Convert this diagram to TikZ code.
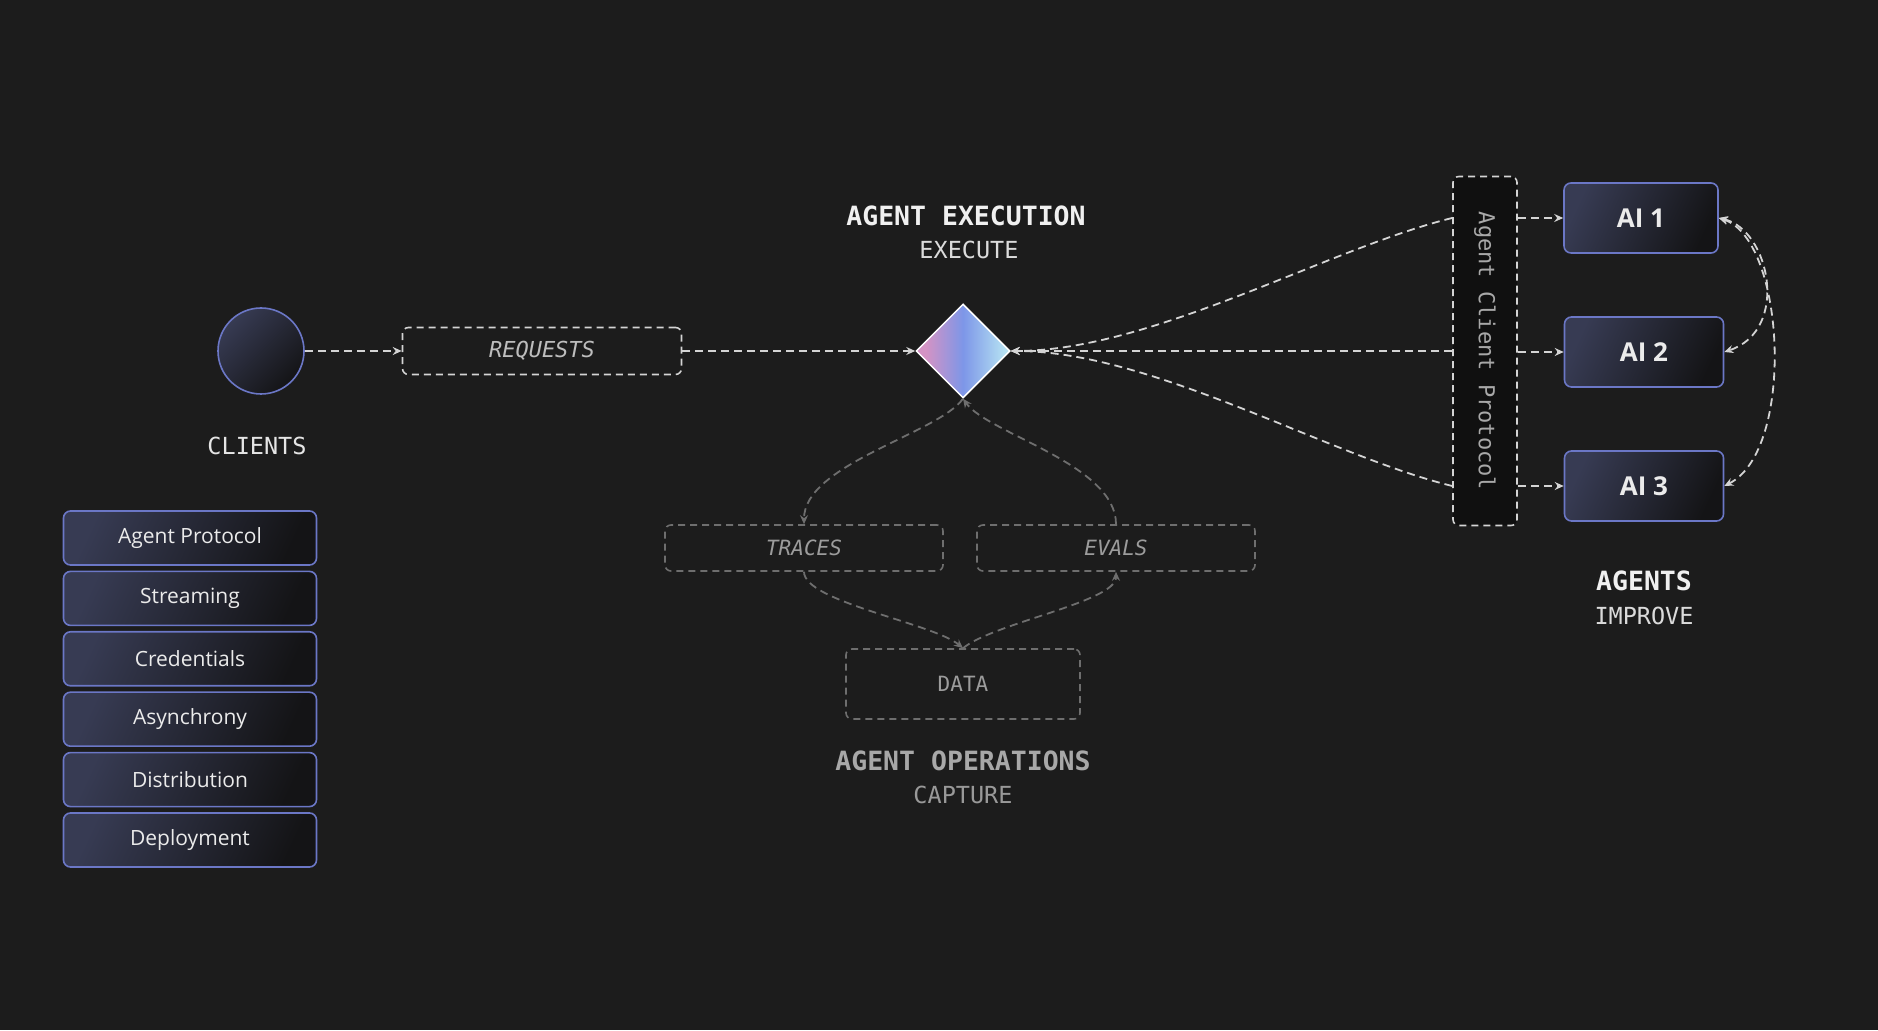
\documentclass[tikz,border=0pt]{standalone}
\usepackage{fontspec}
\setmainfont{Open Sans}
\newfontfamily\monofont{DejaVu Sans Mono}
\usetikzlibrary{arrows.meta, shapes.geometric}

\definecolor{bgc}{HTML}{1C1C1C}
\definecolor{edgec}{HTML}{6B77C6}
\definecolor{boxhi}{HTML}{373B53}
\definecolor{boxlo}{HTML}{141416}
\definecolor{linec}{HTML}{D4D4D4}
\definecolor{acpfill}{HTML}{101010}
\definecolor{opsc}{HTML}{6E6E6E}
\definecolor{opstext}{HTML}{9C9C9C}
\definecolor{gemA}{HTML}{D493C4}
\definecolor{gemB}{HTML}{7D96E8}
\definecolor{gemC}{HTML}{B4E0F2}

\pgfdeclarehorizontalshading{gem}{100bp}{color(0bp)=(gemA); color(30bp)=(gemA); color(50bp)=(gemB); color(72bp)=(gemC); color(100bp)=(gemC)}

\tikzstyle{block} = [rectangle, draw=edgec, line width=1.6pt, rounded corners=7pt,
                 top color=boxhi, bottom color=boxlo, shading angle=65, text=white!92!black]
\tikzstyle{feature} = [block, minimum width=253pt, minimum height=54pt, font=\fontsize{21}{25}\selectfont]
\tikzstyle{agent} = [block, minimum height=70pt, font=\fontsize{26}{30}\selectfont\bfseries]
\tikzstyle{ghost} = [rectangle, draw, dash pattern=on 7pt off 5pt, line width=1.6pt, rounded corners=6pt]
\tikzstyle{title} = [font=\monofont\fontsize{26.5}{30}\selectfont\bfseries, text=white!94!black]
\tikzstyle{subtitle} = [font=\monofont\fontsize{23.5}{28}\selectfont, text=white!86!black]
\tikzstyle{flow} = [draw=linec, line width=1.8pt, dash pattern=on 8pt off 5pt,
                 -{Stealth[length=9pt, width=8pt, inset=3pt]}]
\tikzstyle{twoway} = [flow, {Stealth[length=9pt, width=8pt, inset=3pt]}-{Stealth[length=9pt, width=8pt, inset=3pt]}]
\tikzstyle{opsflow} = [flow, draw=opsc]

\begin{document}
\begin{tikzpicture}[x=1pt, y=1pt]

\fill [bgc] (0,0) rectangle (1878,1030);

\node [circle, draw=edgec, line width=1.6pt, minimum size=86pt,
       top color=boxhi, bottom color=boxlo, shading angle=45] at (261,679) (clients) {};
\node [subtitle, text=white!90!black] at (257,584) (clientslabel) {CLIENTS};

\node [ghost, draw=linec, minimum width=279pt, minimum height=47pt,
       font=\monofont\itshape\fontsize{22}{26}\selectfont, text=white!74!black] at (542,679) (requests) {REQUESTS};

\node [diamond, draw=white, line width=1.5pt, minimum width=94pt, minimum height=94pt,
       inner sep=0pt, shade, shading=gem] at (963,679) (exec) {};
\node [title] at (966,814) (exectitle) {AGENT EXECUTION};
\node [subtitle] at (969,780) (execsub) {EXECUTE};

\node [ghost, draw=linec, fill=acpfill, minimum width=64pt, minimum height=349pt] at (1485,679) (acp) {};
\node [rotate=-90, font=\monofont\fontsize{22}{26}\selectfont, text=white!66!black] at (acp.center) (acptext) {Agent Client Protocol};

\node [agent, minimum width=154pt] at (1641,812) (ai1) {AI 1};
\node [agent, minimum width=159pt] at (1644,678) (ai2) {AI 2};
\node [agent, minimum width=159pt] at (1644,544) (ai3) {AI 3};
\node [title] at (1644,449) (agentstitle) {AGENTS};
\node [subtitle] at (1644,414) (agentssub) {IMPROVE};

\node [ghost, draw=opsc, minimum width=278pt, minimum height=46pt,
       font=\monofont\itshape\fontsize{21}{25}\selectfont, text=opstext] at (804,482) (traces) {TRACES};
\node [ghost, draw=opsc, minimum width=278pt, minimum height=46pt,
       font=\monofont\itshape\fontsize{21}{25}\selectfont, text=opstext] at (1116,482) (evals) {EVALS};
\node [ghost, draw=opsc, minimum width=234pt, minimum height=70pt,
       font=\monofont\fontsize{21}{25}\selectfont, text=opstext] at (963,346) (data) {DATA};
\node [title, text=white!66!black] at (963,269) (opstitle) {AGENT OPERATIONS};
\node [subtitle, text=white!60!black] at (963,235) (opssub) {CAPTURE};

%feature stack
\foreach \txt [count=\i] in {Agent Protocol, Streaming, Credentials, Asynchrony, Distribution, Deployment}
	\node [feature] at (190,552.4-60.4*\i) (feat\i) {\txt};

\path [flow] (clients.east) -- (requests.west);
\path [flow] (requests.east) -- (exec.west);
\path [flow] (acp.west |- ai1) .. controls +(-123,-30) and +(141,0) .. (exec.east);
\path [flow] (acp.west) -- (exec.east);
\path [flow] (acp.west |- ai3) .. controls +(-123,30) and +(141,0) .. (exec.east);
\path [flow] (acp.east |- ai1) -- (ai1.west);
\path [flow] (acp.east |- ai2) -- (ai2.west);
\path [flow] (acp.east |- ai3) -- (ai3.west);
\path [twoway] (ai1.east) .. controls +(51,-12) and +(66,22) .. (ai2.east);
\path [twoway] (ai1.east) .. controls +(67,-22) and +(71,36) .. (ai3.east);

\path [opsflow] (exec.south) .. controls +(-25,-35) and +(0,60) .. (traces.north);
\path [opsflow] (evals.north) .. controls +(0,60) and +(25,-35) .. (exec.south);
\path [opsflow] (traces.south) .. controls +(0,-30) and +(-30,25) .. (data.north);
\path [opsflow] (data.north) .. controls +(30,25) and +(0,-30) .. (evals.south);

\end{tikzpicture}
\end{document}
